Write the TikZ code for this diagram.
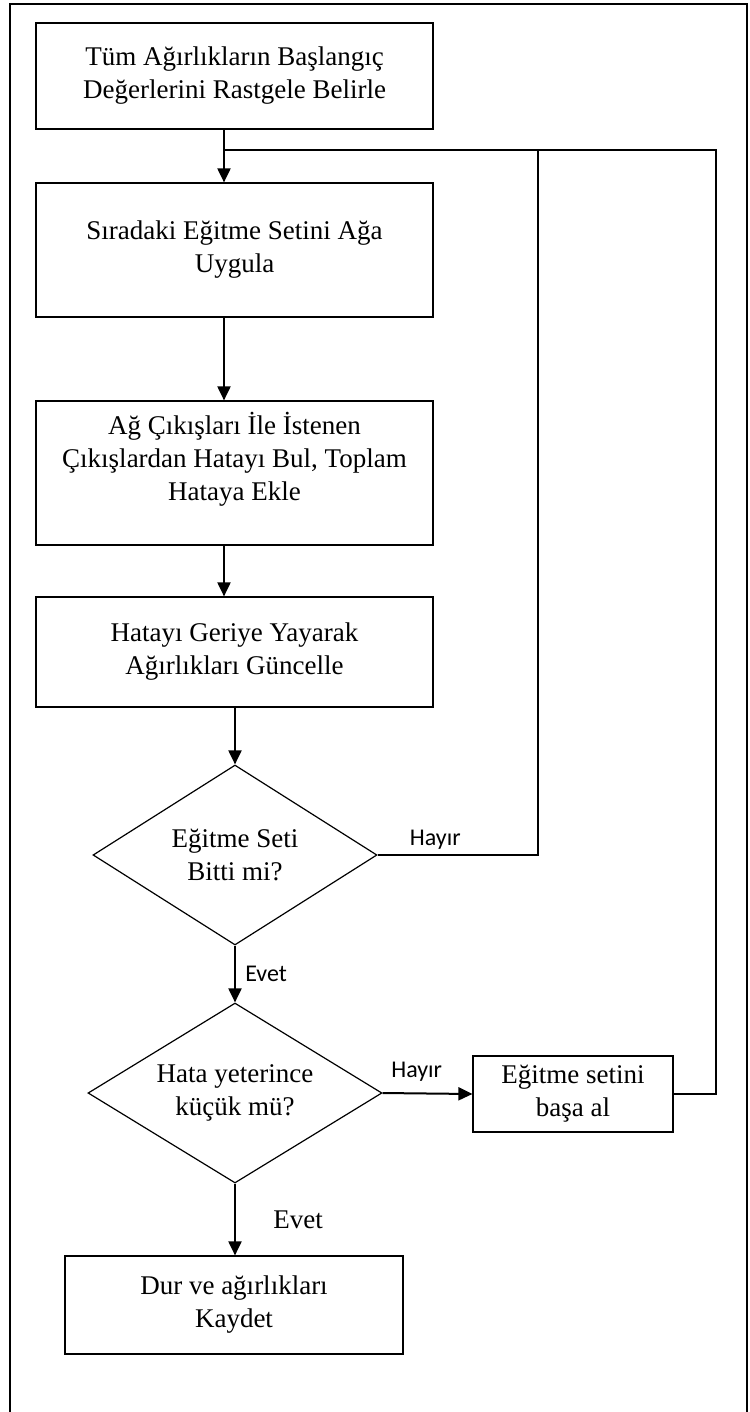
\documentclass[tikz,border=0pt]{standalone}
\usepackage{fontspec}
\setmainfont{Liberation Serif}
\newfontfamily\labelfont{Carlito}
\usetikzlibrary{shapes.geometric, arrows.meta}

\begin{document}
\begin{tikzpicture}[x=1pt,y=-1pt,>={Triangle[length=14pt,width=13pt]},
        box/.style={draw,line width=1.2pt,minimum width=397pt,inner sep=0pt,align=center,
                    font=\fontsize{27}{33}\selectfont},
        cond/.style={draw,diamond,aspect=1.6,line width=1.2pt,inner sep=0pt,align=center,
                     font=\fontsize{27}{33}\selectfont},
        flow/.style={->,line width=2pt},
        tag/.style={font=\labelfont\fontsize{24}{28}\selectfont}]
        \useasboundingbox (0,0) rectangle (749,1412);
        % outer frame, open at the bottom
        \draw[line width=1.5pt] (10,1412) -- (10,4) -- (747,4) -- (747,1412);

        \node[box,minimum height=106pt](init) at (234.5,76) {Tüm Ağırlıkların Başlangıç\\Değerlerini Rastgele Belirle};
        \node[box,minimum height=134pt](apply) at (234.5,250) {Sıradaki Eğitme Setini Ağa\\Uygula};
        \node[box,minimum height=144pt](err) at (234.5,473) {Ağ Çıkışları İle İstenen\\Çıkışlardan Hatayı Bul, Toplam\\Hataya Ekle\\\mbox{}};
        \node[box,minimum height=110pt](upd) at (234.5,652) {Hatayı Geriye Yayarak\\Ağırlıkları Güncelle};
        \node[cond,minimum width=284pt,minimum height=180pt](setend) at (235,855) {Eğitme Seti\\Bitti mi?};
        \node[cond,minimum width=294pt,minimum height=180pt](errok) at (235,1093) {Hata yeterince\\küçük mü?};
        \node[box,minimum width=200pt,minimum height=76pt](reset) at (573,1094) {Eğitme setini\\başa al};
        \node[box,minimum width=338pt,minimum height=98pt](stop) at (234,1305) {Dur ve ağırlıkları\\Kaydet};

        \coordinate (spine) at (224,150);
        \coordinate (hjoin) at (538,150);
        \coordinate (back) at (716,150);

        \draw[flow] (init.south -| spine) -- (apply.north -| spine);
        \draw[flow] (apply.south -| spine) -- (err.north -| spine);
        \draw[flow] (err.south -| spine) -- (upd.north -| spine);
        \draw[flow] (upd.south -| setend) -- (setend.north);
        \draw[flow] (setend.south) -- node[tag,right=6pt](yes1){Evet} (errok.north);
        \draw[flow] (errok.east) -- node[tag,above=8pt,pos=0.38](no2){Hayır} (reset.west);
        \draw[flow] (errok.south) -- node[right=34pt,font=\fontsize{27}{33}\selectfont](yes2){Evet} (stop.north -| errok);
        % back to the next training set
        \draw[line width=1.2pt] (setend.east) -- node[tag,above=2pt,pos=0.36](no1){Hayır} (setend.east -| hjoin) -- (hjoin);
        \draw[line width=1.2pt] (reset.east) -| (back) -- (spine);
\end{tikzpicture}
\end{document}
